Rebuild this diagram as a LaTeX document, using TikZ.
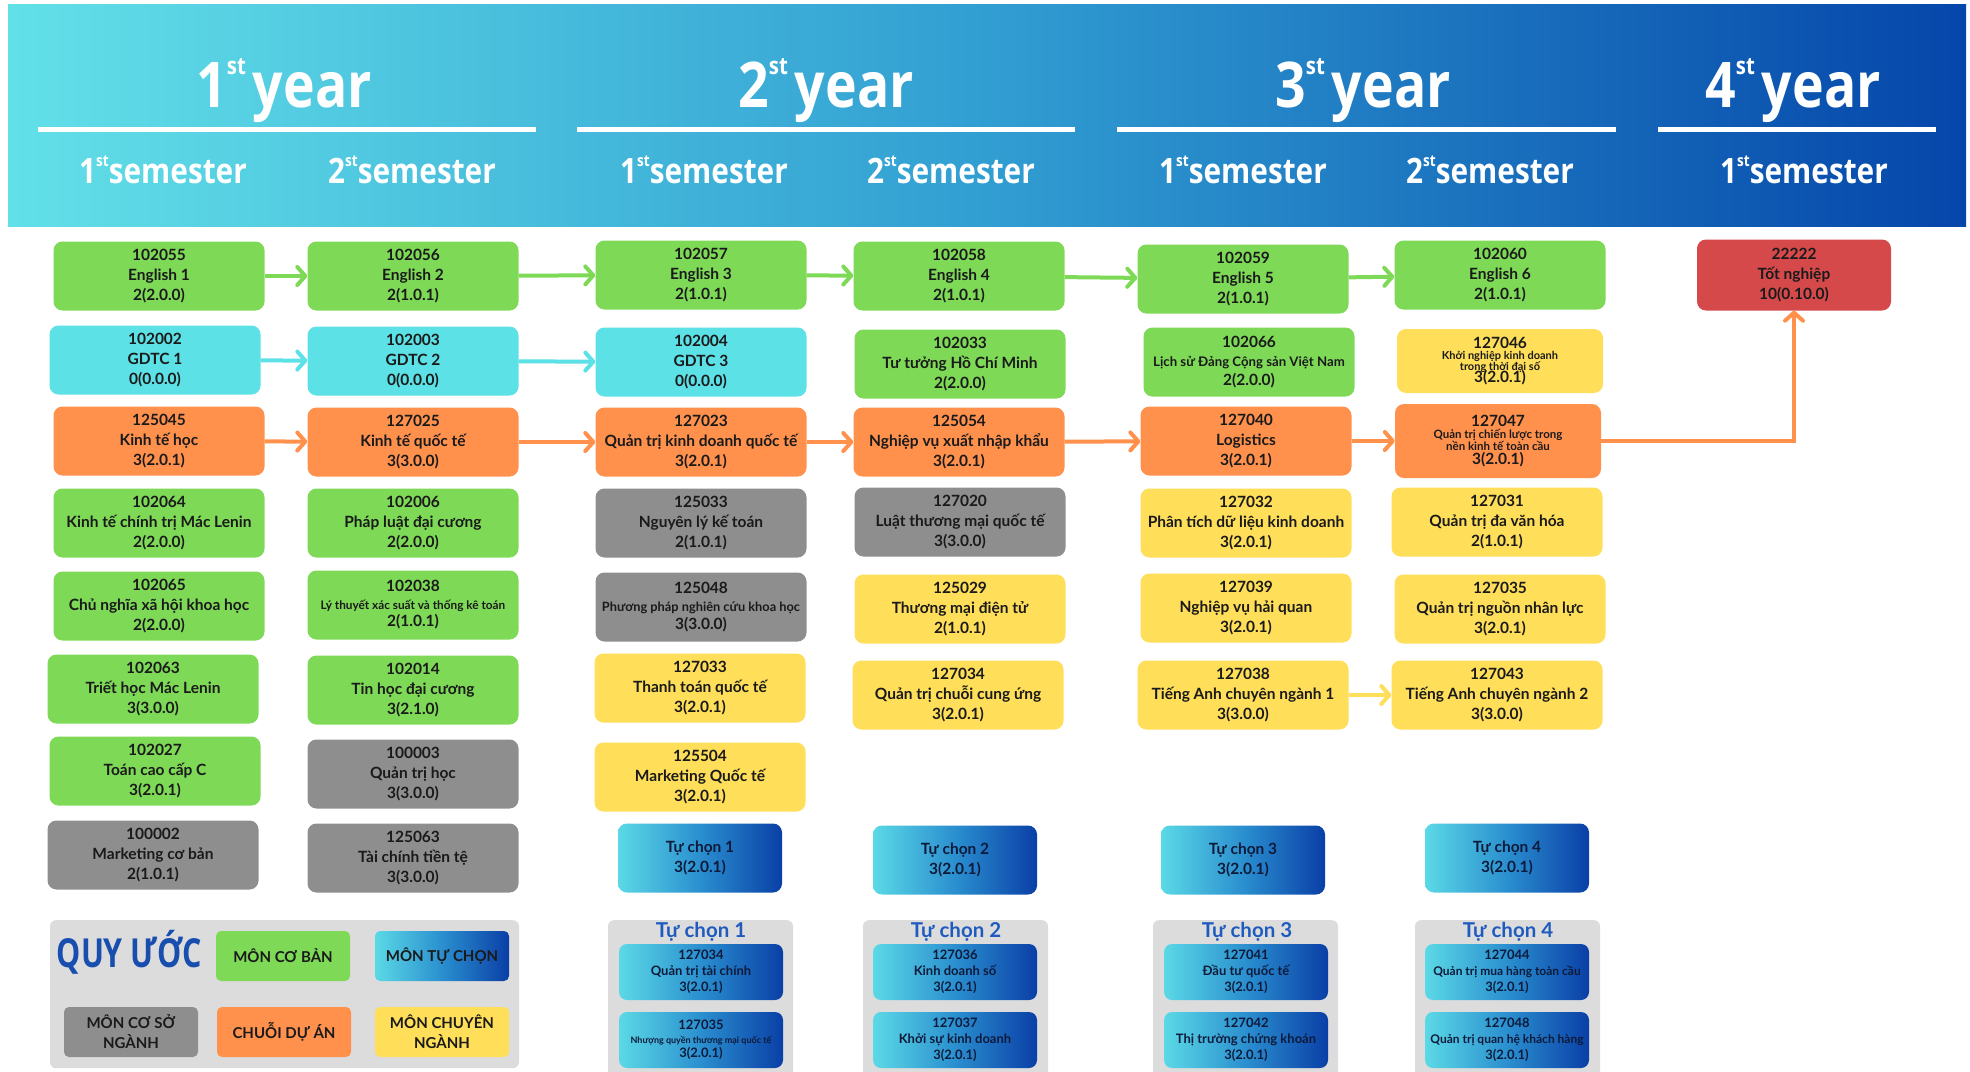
\documentclass[tikz,border=0pt]{standalone}
\usepackage{fontspec}
\setmainfont{Lato}
\newfontfamily\headfont[FakeStretch=0.85]{Open Sans}
\newfontfamily\quyfont[FakeStretch=0.76]{Open Sans}
\usetikzlibrary{arrows.meta}
\definecolor{cgreen}{HTML}{7ED957}
\definecolor{ccyan}{HTML}{5CE1E6}
\definecolor{corange}{HTML}{FF914D}
\definecolor{cgray}{HTML}{8E8E8E}
\definecolor{cyellow}{HTML}{FFDE59}
\definecolor{cred}{HTML}{D6494B}
\definecolor{ctext}{HTML}{1A1A1A}
\definecolor{gradL}{HTML}{5BD9E6}
\definecolor{gradM}{HTML}{2A8FCF}
\definecolor{gradR}{HTML}{0A3FA6}
\definecolor{hdrL}{HTML}{62E0E8}
\definecolor{hdrM}{HTML}{319ED2}
\definecolor{hdrR}{HTML}{0546AA}
\definecolor{cpanel}{HTML}{DCDCDC}
\definecolor{ctitle}{HTML}{1F5BBF}
\definecolor{cquy}{HTML}{184EAE}
\definecolor{cnavy}{HTML}{0E1A3A}
\newcommand\yeartxt[1]{#1\raisebox{33pt}{\fontsize{24}{24}\selectfont st}\hspace{7pt}year}
\newcommand\semtxt[1]{#1\raisebox{17pt}{\fontsize{16}{16}\selectfont st}semester}
\tikzset{
  basebox/.style={rounded corners=9pt, minimum width=211pt, minimum height=69pt, inner sep=0pt, align=center, text=ctext, font=\fontsize{15.5}{20}\selectfont\bfseries},
  bgreen/.style={basebox, fill=cgreen},
  bcyan/.style={basebox, fill=ccyan},
  borange/.style={basebox, fill=corange},
  bgray/.style={basebox, fill=cgray},
  byellow/.style={basebox, fill=cyellow},
  bred/.style={basebox, fill=cred},
  gradfill/.style={left color=gradL, right color=gradR, middle color=gradM},
  bgrad/.style={basebox, gradfill, minimum width=164pt, text=cnavy},
  ebox/.style={basebox, gradfill, minimum width=164pt, minimum height=56pt, rounded corners=8pt, text=cnavy, font=\fontsize{13}{16}\selectfont\bfseries},
  panel/.style={fill=cpanel, rounded corners=6pt, inner sep=0pt, minimum width=185pt, minimum height=175pt, anchor=north},
  ptitle/.style={text=ctitle, inner sep=0pt, font=\fontsize{20.5}{20.5}\selectfont\bfseries},
  legbox/.style={rounded corners=5pt, minimum width=134pt, minimum height=50pt, inner sep=0pt, align=center, text=ctext, font=\fontsize{15}{20}\selectfont\bfseries},
  yearlbl/.style={anchor=base, inner sep=0pt, text=white, font=\headfont\bfseries\fontsize{63}{63}\selectfont},
  semlbl/.style={anchor=base, inner sep=0pt, text=white, font=\headfont\bfseries\fontsize{35}{35}\selectfont},
  flow/.style={line width=4pt, -{Straight Barb[length=8pt,width=18pt,round]}},
}
\begin{document}
\begin{tikzpicture}[x=1pt,y=-1pt]
\clip (0,0) rectangle (1970,1071);
\fill[white] (0,0) rectangle (1970,1071);
% header band
\shade[left color=hdrL, right color=hdrR, middle color=hdrM] (8,4) rectangle (1966,226);
\foreach \a/\b in {38/536, 577/1075, 1117/1616, 1658/1936}
  \fill[white] (\a,127) rectangle (\b,132);
\node[yearlbl] (yr1) at (284,107) {\yeartxt{1}};
\node[yearlbl] (yr2) at (826,107) {\yeartxt{2}};
\node[yearlbl] (yr3) at (1363,107) {\yeartxt{3}};
\node[yearlbl] (yr4) at (1793,107) {\yeartxt{4}};
\node[semlbl] (s11) at (163,183) {\semtxt{1}};
\node[semlbl] (s12) at (412,183) {\semtxt{2}};
\node[semlbl] (s21) at (704,183) {\semtxt{1}};
\node[semlbl] (s22) at (951,183) {\semtxt{2}};
\node[semlbl] (s31) at (1243,183) {\semtxt{1}};
\node[semlbl] (s32) at (1490,183) {\semtxt{2}};
\node[semlbl] (s41) at (1804,183) {\semtxt{1}};
% column 1
\node[bgreen] (e1) at (159,276) {102055\\English 1\\2(2.0.0)};
\node[bcyan] (gd1) at (155,360) {102002\\GDTC 1\\0(0.0.0)};
\node[borange] (kth) at (159,441) {125045\\Kinh tế học\\3(2.0.1)};
\node[bgreen] (c64) at (159,523) {102064\\Kinh tế chính trị Mác Lenin\\2(2.0.0)};
\node[bgreen] (c65) at (159,606) {102065\\Chủ nghĩa xã hội khoa học\\2(2.0.0)};
\node[bgreen] (c63) at (153,689) {102063\\Triết học Mác Lenin\\3(3.0.0)};
\node[bgreen] (c27) at (155,771) {102027\\Toán cao cấp C\\3(2.0.1)};
\node[bgray] (c02) at (153,855) {100002\\Marketing cơ bản\\2(1.0.1)};
% column 2
\node[bgreen] (e2) at (413,276) {102056\\English 2\\2(1.0.1)};
\node[bcyan] (gd2) at (413,361) {102003\\GDTC 2\\0(0.0.0)};
\node[borange] (kqt) at (413,442) {127025\\Kinh tế quốc tế\\3(3.0.0)};
\node[bgreen] (c06) at (413,523) {102006\\Pháp luật đại cương\\2(2.0.0)};
\node[bgreen] (c38) at (413,605) {102038\\[-2.5pt]{\fontsize{11.8}{13}\selectfont Lý thuyết xác suất và thống kê toán}\\[-2.5pt]2(1.0.1)};
\node[bgreen] (c14) at (413,690) {102014\\Tin học đại cương\\3(2.1.0)};
\node[bgray] (c03) at (413,774) {100003\\Quản trị học\\3(3.0.0)};
\node[bgray] (t63) at (413,858) {125063\\Tài chính tiền tệ\\3(3.0.0)};
% column 3
\node[bgreen] (e3) at (701,275) {102057\\English 3\\2(1.0.1)};
\node[bcyan] (gd3) at (701,362) {102004\\GDTC 3\\0(0.0.0)};
\node[borange] (qkd) at (701,442) {127023\\Quản trị kinh doanh quốc tế\\3(2.0.1)};
\node[bgray] (c33) at (701,523) {125033\\Nguyên lý kế toán\\2(1.0.1)};
\node[bgray] (c48) at (701,607) {125048\\[-2pt]{\fontsize{12.8}{14}\selectfont Phương pháp nghiên cứu khoa học}\\[-2pt]3(3.0.0)};
\node[byellow] (y33) at (700,688) {127033\\Thanh toán quốc tế\\3(2.0.1)};
\node[byellow] (y04) at (700,777) {125504\\Marketing Quốc tế\\3(2.0.1)};
\node[bgrad] (tc1) at (700,858) {Tự chọn 1\\3(2.0.1)};
% column 4
\node[bgreen] (e4) at (959,276) {102058\\English 4\\2(1.0.1)};
\node[bgreen] (c33h) at (960,364) {102033\\Tư tưởng Hồ Chí Minh\\2(2.0.0)};
\node[borange] (nv54) at (959,442) {125054\\Nghiệp vụ xuất nhập khẩu\\3(2.0.1)};
\node[bgray] (c20) at (960,522) {127020\\Luật thương mại quốc tế\\3(3.0.0)};
\node[byellow] (y29) at (960,609) {125029\\Thương mại điện tử\\2(1.0.1)};
\node[byellow] (y34) at (958,695) {127034\\Quản trị chuỗi cung ứng\\3(2.0.1)};
\node[bgrad] (tc2) at (955,860) {Tự chọn 2\\3(2.0.1)};
% column 5
\node[bgreen] (e5) at (1243,279) {102059\\English 5\\2(1.0.1)};
\node[bgreen] (c66) at (1249,362) {102066\\[-1pt]{\fontsize{13.2}{14}\selectfont Lịch sử Đảng Cộng sản Việt Nam}\\[-1pt]2(2.0.0)};
\node[borange] (lg40) at (1246,441) {127040\\Logistics\\3(2.0.1)};
\node[byellow] (y32) at (1246,523) {127032\\Phân tích dữ liệu kinh doanh\\3(2.0.1)};
\node[byellow] (y39) at (1246,608) {127039\\Nghiệp vụ hải quan\\3(2.0.1)};
\node[byellow] (y38) at (1243,695) {127038\\Tiếng Anh chuyên ngành 1\\3(3.0.0)};
\node[bgrad] (tc3) at (1243,860) {Tự chọn 3\\3(2.0.1)};
% column 6
\node[bgreen] (e6) at (1500,275) {102060\\English 6\\2(1.0.1)};
\node[byellow, minimum width=206pt, minimum height=64pt] (y46) at (1500,361) {127046\\[-9pt]{\fontsize{11}{11}\selectfont Khởi nghiệp kinh doanh}\\[-9pt]{\fontsize{11}{11}\selectfont trong thời đại số}\\[-8pt]3(2.0.1)};
\node[borange, minimum width=206pt, minimum height=74pt] (o47) at (1498,441) {127047\\[-8pt]{\fontsize{11.5}{11}\selectfont Quản trị chiến lược trong}\\[-8.5pt]{\fontsize{11.5}{11}\selectfont nền kinh tế toàn cầu}\\[-6pt]3(2.0.1)};
\node[byellow] (y31) at (1497,522) {127031\\Quản trị đa văn hóa\\2(1.0.1)};
\node[byellow] (y35) at (1500,609) {127035\\Quản trị nguồn nhân lực\\3(2.0.1)};
\node[byellow] (y43) at (1497,695) {127043\\Tiếng Anh chuyên ngành 2\\3(3.0.0)};
\node[bgrad] (tc4) at (1507,858) {Tự chọn 4\\3(2.0.1)};
% graduation
\node[bred, minimum width=194pt, minimum height=71pt] (grad) at (1794,275) {22222\\Tốt nghiệp\\10(0.10.0)};
% connectors
\draw[flow, cgreen] (e1) -- (e2);
\draw[flow, cgreen] (e2) -- (e3);
\draw[flow, cgreen] (e3) -- (e4);
\draw[flow, cgreen] (e4) -- (e5);
\draw[flow, cgreen] (e5) -- (e6);
\draw[flow, ccyan] (gd1) -- (gd2);
\draw[flow, ccyan] (gd2) -- (gd3);
\draw[flow, corange] (kth) -- (kqt);
\draw[flow, corange] (kqt) -- (qkd);
\draw[flow, corange] (qkd) -- (nv54);
\draw[flow, corange] (nv54) -- (lg40);
\draw[flow, corange] (lg40) -- (o47);
\draw[flow, corange] (o47.east) -| (grad.south);
\draw[flow, cyellow] (y38) -- (y43);
% legend
\node[panel, minimum width=469pt, minimum height=148pt] (leg) at (284.5,920) {};
\node[anchor=base, inner sep=0pt, text=cquy, font=\quyfont\bfseries\fontsize{40}{40}\selectfont] (quy) at (129.5,967) {QUY ƯỚC};
\node[legbox, fill=cgreen] (lgA) at (283,956) {MÔN CƠ BẢN};
\node[legbox, gradfill] (lgB) at (442,956) {MÔN TỰ CHỌN};
\node[legbox, fill=cgray] (lgC) at (131,1032) {MÔN CƠ SỞ\\NGÀNH};
\node[legbox, fill=corange] (lgD) at (284,1032) {CHUỖI DỰ ÁN};
\node[legbox, fill=cyellow] (lgE) at (442,1032) {MÔN CHUYÊN\\NGÀNH};
% elective panels
\node[panel] (p1) at (700.5,920) {};
\node[ptitle] (p1t) at (701,932) {Tự chọn 1};
\node[ebox] (p1a) at (701,972) {127034\\Quản trị tài chính\\3(2.0.1)};
\node[ebox] (p1b) at (701,1040) {127035\\[-2pt]{\fontsize{9}{10}\selectfont Nhượng quyền thương mại quốc tế}\\[-2pt]3(2.0.1)};
\node[panel] (p2) at (955.5,920) {};
\node[ptitle] (p2t) at (956,932) {Tự chọn 2};
\node[ebox] (p2a) at (955,972) {127036\\Kinh doanh số\\3(2.0.1)};
\node[ebox] (p2b) at (955,1040) {127037\\Khởi sự kinh doanh\\3(2.0.1)};
\node[panel] (p3) at (1245.5,920) {};
\node[ptitle] (p3t) at (1247,932) {Tự chọn 3};
\node[ebox] (p3a) at (1246,972) {127041\\Đầu tư quốc tế\\3(2.0.1)};
\node[ebox] (p3b) at (1246,1040) {127042\\Thị trường chứng khoán\\3(2.0.1)};
\node[panel] (p4) at (1507.5,920) {};
\node[ptitle] (p4t) at (1508,932) {Tự chọn 4};
\node[ebox] (p4a) at (1507,972) {127044\\{\fontsize{12}{12}\selectfont Quản trị mua hàng toàn cầu}\\3(2.0.1)};
\node[ebox] (p4b) at (1507,1040) {127048\\{\fontsize{12}{12}\selectfont Quản trị quan hệ khách hàng}\\3(2.0.1)};
\end{tikzpicture}
\end{document}
